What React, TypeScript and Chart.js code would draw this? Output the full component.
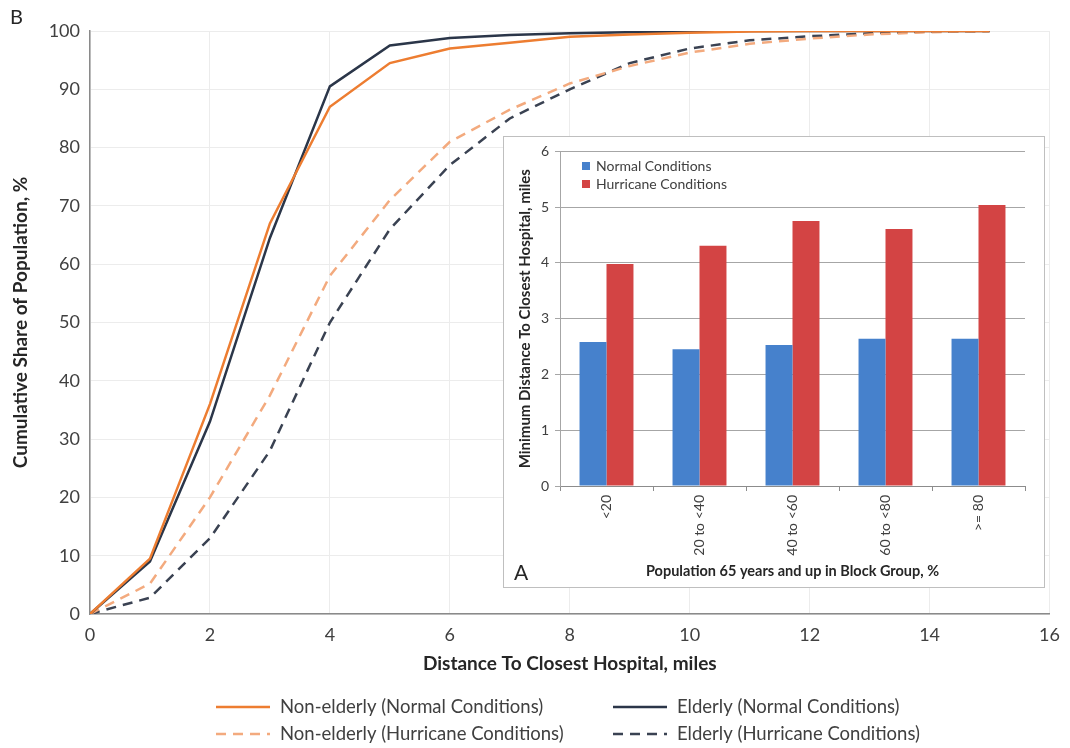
import React, { useEffect, useRef } from "react";
import { Chart, registerables } from "chart.js";

Chart.register(...registerables);

// ---------- Main chart (B) data ----------
const distanceMiles = [0, 1, 2, 3, 4, 5, 6, 7, 8, 9, 10, 11, 12, 13, 14, 15];
const nonElderlyNormal = [0, 9.5, 36, 67, 87, 94.5, 97, 98, 99, 99.4, 99.7, 99.9, 100, 100, 100, 100];
const elderlyNormal = [0, 9, 33, 64.5, 90.5, 97.5, 98.8, 99.3, 99.6, 99.8, 99.9, 100, 100, 100, 100, 100];
const nonElderlyHurricane = [0, 5.2, 20, 37.5, 58, 71, 81, 86.5, 91, 94, 96.3, 97.8, 98.7, 99.4, 99.8, 100];
const elderlyHurricane = [0, 2.8, 13, 28, 50, 66, 77, 85, 90, 94.5, 97, 98.4, 99.1, 99.6, 99.9, 100];
const seriesLabels = [
  "Non-elderly (Normal Conditions)",
  "Elderly (Normal Conditions)",
  "Non-elderly (Hurricane Conditions)",
  "Elderly (Hurricane Conditions)",
];

// ---------- Inset chart (A) data ----------
const ageGroups = ["<20", "20 to <40", "40 to <60", "60 to <80", ">= 80"];
const normalMinDistance = [2.58, 2.45, 2.53, 2.64, 2.64];
const hurricaneMinDistance = [3.98, 4.31, 4.75, 4.61, 5.04];
const insetLabels = ["Normal Conditions", "Hurricane Conditions"];

const FONT = "Lato, 'Open Sans', sans-serif";
const TEXT = "#404040";

const toXY = (ys: number[]) => distanceMiles.map((x, i) => ({ x, y: ys[i] }));

const gridLegend = {
  id: "gridLegend",
  afterDraw(chart: any, _args: any, opts: any) {
    const ctx = chart.ctx;
    ctx.save();
    chart.data.datasets.forEach((ds: any, i: number) => {
      const col = i % 2;
      const row = Math.floor(i / 2);
      const x = opts.colX[col];
      const y = opts.rowY[row];
      ctx.strokeStyle = ds.borderColor;
      ctx.lineWidth = ds.borderWidth;
      ctx.setLineDash(ds.borderDash || []);
      ctx.beginPath();
      ctx.moveTo(x, y);
      ctx.lineTo(x + opts.lineLen, y);
      ctx.stroke();
      ctx.setLineDash([]);
      ctx.fillStyle = opts.color;
      ctx.font = opts.font;
      ctx.textBaseline = "middle";
      ctx.textAlign = "left";
      ctx.fillText(ds.label, x + opts.lineLen + opts.gap, y);
    });
    ctx.restore();
  },
};

const boxLegend = {
  id: "boxLegend",
  afterDraw(chart: any, _args: any, opts: any) {
    const ctx = chart.ctx;
    ctx.save();
    chart.data.datasets.forEach((ds: any, i: number) => {
      const x = opts.x;
      const y = opts.y + i * opts.rowGap;
      ctx.fillStyle = ds.backgroundColor;
      ctx.fillRect(x, y - opts.box / 2, opts.box, opts.box);
      ctx.fillStyle = opts.color;
      ctx.font = opts.font;
      ctx.textBaseline = "middle";
      ctx.textAlign = "left";
      ctx.fillText(ds.label, x + opts.box + opts.gap, y);
    });
    ctx.restore();
  },
};

export default function App() {
  const mainRef = useRef<HTMLCanvasElement>(null);
  const insetRef = useRef<HTMLCanvasElement>(null);

  useEffect(() => {
    document.body.style.margin = "0";
    const orange = "#ED7D31";
    const lightOrange = "#F3AA7E";
    const navy = "#2B3649";
    const navyDash = "#3A4252";

    const main = new Chart(mainRef.current!, {
      type: "line",
      data: {
        datasets: [
          { label: seriesLabels[0], data: toXY(nonElderlyNormal), borderColor: orange, borderWidth: 2.5, pointRadius: 0, tension: 0 },
          { label: seriesLabels[1], data: toXY(elderlyNormal), borderColor: navy, borderWidth: 2.5, pointRadius: 0, tension: 0 },
          { label: seriesLabels[2], data: toXY(nonElderlyHurricane), borderColor: lightOrange, borderWidth: 2.5, borderDash: [10, 7], pointRadius: 0, tension: 0 },
          { label: seriesLabels[3], data: toXY(elderlyHurricane), borderColor: navyDash, borderWidth: 2.5, borderDash: [10, 7], pointRadius: 0, tension: 0 },
        ],
      },
      options: {
        animation: false,
        responsive: false,
        layout: { padding: { left: 0, top: 31, right: 17, bottom: 70 } },
        plugins: {
          legend: { display: false },
          tooltip: { enabled: false },
          gridLegend: {
            colX: [216, 613],
            rowY: [707, 734],
            lineLen: 54,
            gap: 10,
            font: `18.5px ${FONT}`,
            color: TEXT,
          },
        } as any,
        scales: {
          x: {
            type: "linear",
            min: 0,
            max: 16,
            ticks: { stepSize: 2, padding: 10, color: TEXT, font: { family: FONT, size: 18 } },
            grid: { color: "#ececec", drawTicks: false },
            border: { color: "#8a8a8a", width: 1.5 },
            title: {
              display: true,
              text: "Distance To Closest Hospital, miles",
              color: "#262626",
              font: { family: FONT, size: 19, weight: "bold" },
              padding: { top: 0, bottom: 3 },
            },
            afterFit: (s: any) => {
              s.height = 64;
            },
          },
          y: {
            min: 0,
            max: 100,
            ticks: { stepSize: 10, padding: 10, color: TEXT, font: { family: FONT, size: 18 } },
            grid: { color: "#ececec", drawTicks: false },
            border: { color: "#8a8a8a", width: 1.5 },
            title: {
              display: true,
              text: "Cumulative Share of Population, %",
              color: "#262626",
              font: { family: FONT, size: 19, weight: "bold" },
              padding: { top: 9, bottom: 0 },
            },
            afterFit: (s: any) => {
              s.width = 90;
            },
          },
        },
      },
      plugins: [gridLegend],
    });

    const inset = new Chart(insetRef.current!, {
      type: "bar",
      data: {
        labels: ageGroups,
        datasets: [
          { label: insetLabels[0], data: normalMinDistance, backgroundColor: "#4681CC", categoryPercentage: 0.58, barPercentage: 1 },
          { label: insetLabels[1], data: hurricaneMinDistance, backgroundColor: "#D34444", categoryPercentage: 0.58, barPercentage: 1 },
        ],
      },
      options: {
        animation: false,
        responsive: false,
        layout: { padding: { left: 0, top: 13, right: 19, bottom: 0 } },
        plugins: {
          legend: { display: false },
          tooltip: { enabled: false },
          boxLegend: {
            x: 78,
            y: 29,
            rowGap: 18,
            box: 8,
            gap: 6,
            font: `14px ${FONT}`,
            color: TEXT,
          },
        } as any,
        scales: {
          x: {
            type: "category",
            grid: { drawOnChartArea: false, drawTicks: true, tickLength: 5, color: "#8c8c8c", offset: true },
            border: { color: "#8c8c8c" },
            ticks: { minRotation: 90, maxRotation: 90, padding: 4, color: TEXT, font: { family: FONT, size: 14 } },
            title: {
              display: true,
              text: "Population 65 years and up in Block Group, %",
              color: "#262626",
              font: { family: FONT, size: 14.5, weight: "bold" },
              padding: { top: 0, bottom: 7 },
            },
            afterFit: (s: any) => {
              s.height = 101;
            },
          },
          y: {
            min: 0,
            max: 6,
            ticks: { stepSize: 1, padding: 6, color: TEXT, font: { family: FONT, size: 14 } },
            grid: { color: "#a6a6a6", tickLength: 5 },
            border: { color: "#a6a6a6" },
            title: {
              display: true,
              text: "Minimum Distance To Closest Hospital, miles",
              color: "#262626",
              font: { family: FONT, size: 15, weight: "bold" },
              padding: { top: 12, bottom: 0 },
            },
            afterFit: (s: any) => {
              s.width = 56;
            },
          },
        },
      },
      plugins: [boxLegend],
    });

    return () => {
      main.destroy();
      inset.destroy();
    };
  }, []);

  return (
    <div style={{ position: "relative", width: 1070, height: 748, overflow: "hidden", background: "#fff" }}>
      <canvas ref={mainRef} width={1070} height={748} style={{ display: "block" }} />
      <div style={{ position: "absolute", left: 10, top: 4, fontFamily: FONT, fontSize: 20, color: "#262626" }}>B</div>
      <div
        style={{
          position: "absolute",
          left: 503,
          top: 136,
          width: 540,
          height: 450,
          border: "1px solid #bfbfbf",
          background: "#fff",
        }}
      >
        <canvas ref={insetRef} width={540} height={450} style={{ display: "block" }} />
        <div style={{ position: "absolute", left: 10, top: 422, fontFamily: FONT, fontSize: 21, color: "#262626" }}>A</div>
      </div>
    </div>
  );
}
